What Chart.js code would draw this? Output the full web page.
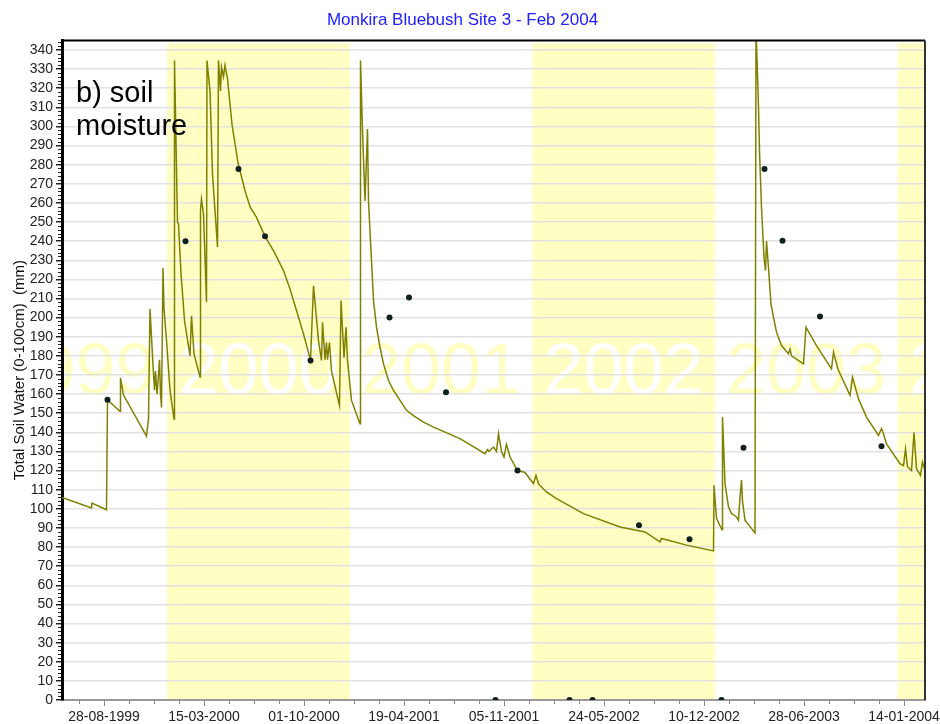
<!DOCTYPE html>
<html>
<head>
<meta charset="utf-8">
<script src="https://cdn.jsdelivr.net/npm/chart.js@4.4.1/dist/chart.umd.min.js"></script>
<style>
  html, body { margin: 0; padding: 0; background: #fff; }
</style>
</head>
<body>
<canvas id="chart" width="940" height="724"></canvas>
<script>
// modelled soil water
const lineDates = [
    '1999-06-05', '1999-08-03', '1999-08-04', '1999-09-02', '1999-09-04', '1999-09-29', '1999-09-30', '1999-10-06',
    '1999-11-21', '1999-11-25', '1999-11-28', '1999-12-03', '1999-12-07', '1999-12-09', '1999-12-12', '1999-12-15',
    '1999-12-17', '1999-12-19', '1999-12-21', '1999-12-24', '1999-12-26', '1999-12-31', '2000-01-07', '2000-01-15',
    '2000-01-16', '2000-01-19', '2000-01-22', '2000-01-24', '2000-01-29', '2000-02-05', '2000-02-16', '2000-02-19',
    '2000-02-24', '2000-03-07', '2000-03-08', '2000-03-10', '2000-03-14', '2000-03-20', '2000-03-21', '2000-03-27',
    '2000-04-01', '2000-04-11', '2000-04-13', '2000-04-17', '2000-04-19', '2000-04-23', '2000-04-26', '2000-05-01',
    '2000-05-10', '2000-05-22', '2000-06-05', '2000-06-15', '2000-06-28', '2000-07-15', '2000-08-01', '2000-08-21',
    '2000-09-03', '2000-09-16', '2000-09-30', '2000-10-14', '2000-10-20',
    '2000-10-30', '2000-11-05', '2000-11-07', '2000-11-12', '2000-11-15', '2000-11-17', '2000-11-21', '2000-11-25',
    '2000-12-11', '2000-12-14', '2000-12-20', '2000-12-24', '2000-12-27', '2001-01-04', '2001-01-21', '2001-01-22',
    '2001-01-26', '2001-01-31', '2001-02-05', '2001-02-07', '2001-02-11', '2001-02-17', '2001-02-23', '2001-03-02',
    '2001-03-09', '2001-03-19', '2001-03-29', '2001-04-11', '2001-04-24', '2001-05-08', '2001-05-28', '2001-06-17',
    '2001-08-09', '2001-09-28', '2001-10-03', '2001-10-06', '2001-10-15',
    '2001-10-21', '2001-10-25', '2001-10-31', '2001-11-05', '2001-11-10', '2001-11-17', '2001-12-02', '2001-12-17',
    '2002-01-03', '2002-01-08', '2002-01-13', '2002-01-29', '2002-02-18', '2002-04-13', '2002-06-25', '2002-08-14',
    '2002-09-13', '2002-09-16', '2002-11-05', '2002-12-29', '2002-12-30', '2003-01-04', '2003-01-15', '2003-01-16',
    '2003-01-21', '2003-01-28', '2003-02-03', '2003-02-12', '2003-02-17', '2003-02-20', '2003-02-23', '2003-02-25',
    '2003-03-02', '2003-03-22', '2003-03-24', '2003-03-29', '2003-03-31', '2003-04-04', '2003-04-09', '2003-04-12',
    '2003-04-14', '2003-04-18', '2003-04-23', '2003-04-28', '2003-05-04', '2003-05-14', '2003-05-28', '2003-05-31',
    '2003-06-03', '2003-06-27',
    '2003-07-02', '2003-07-23', '2003-08-22', '2003-08-26', '2003-09-04', '2003-09-28', '2003-10-03', '2003-10-15',
    '2003-10-31', '2003-11-24', '2003-11-30', '2003-12-03', '2003-12-10', '2004-01-06', '2004-01-13', '2004-01-17',
    '2004-01-21', '2004-01-29', '2004-02-03', '2004-02-08', '2004-02-16', '2004-02-20', '2004-02-25'
];
const lineValues = [
    106, 100.5, 103, 99.5, 157, 151, 168.5, 159.5,
    138, 147, 204.5, 180, 162, 172, 160, 170,
    178, 160, 153, 226, 205, 188, 162, 147,
    334.5, 292, 250, 249, 223, 198.5, 180, 201,
    181, 169, 256, 262, 254, 208, 334.5, 318.5,
    275, 237, 334.5, 318.5, 331, 326, 332, 325,
    301, 281, 266.4, 258, 252.4, 242.5, 235, 224.6,
    215, 203.7, 191.5, 177.6, 216.7,
    188, 177.6, 197.6, 178, 187, 178, 187, 172,
    154, 209, 179, 195, 177.6, 156.7, 144.5, 334.5,
    298, 261, 298.6, 261, 240, 209, 195, 184.5,
    175.8, 167.1, 161.9, 156.7, 151.5, 148.8, 145.3, 142.7,
    136.7, 128.8, 131, 130, 132.3,
    130, 139.3, 130, 127.1, 133.7, 127.1, 120, 119,
    113.2, 117.5, 113, 108.8, 105.3, 97.5, 90.5, 87.9,
    82.7, 84.5, 81, 78, 112.3, 95, 89, 148,
    113.2, 101, 97.5, 96, 94, 106, 115, 104,
    94, 87.4, 352, 310, 287, 257.6, 231.5, 224.6,
    240, 226, 207, 200.2, 192.4, 185.4, 181.1, 183.5,
    180, 175.8,
    195, 185.4, 173.2, 181.9, 173, 159.3, 168.8, 157.5,
    148, 138.4, 141.9, 140, 134, 123.6, 122.5, 131.4,
    122, 120, 140, 121, 117.5, 124.5, 120
];

// measured soil water (dots)
const obsDates = [
    '1999-09-04', '2000-02-07', '2000-05-23', '2000-07-15', '2000-10-14', '2001-03-21', '2001-04-29',
    '2001-07-12', '2001-10-19', '2001-12-02', '2002-03-16', '2002-05-01', '2002-08-02', '2002-11-11',
    '2003-01-14', '2003-02-27', '2003-04-10', '2003-05-16', '2003-07-30', '2003-11-30'
];
const obsValues = [
    157, 240, 277.7, 242.5, 177.6, 200, 210.5,
    161, 0, 120, 0, 0, 91.4, 84.1,
    0, 132, 277.7, 240.2, 200.6, 132.7
];

const tickDates = ['1999-08-28', '2000-03-15', '2000-10-01', '2001-04-19', '2001-11-05',
                   '2002-05-24', '2002-12-10', '2003-06-28', '2004-01-14'];
const yearLabels = ['1999', '2000', '2001', '2002', '2003', '2004'];
const shadedYears = ['2000', '2002', '2004'];

const DAY = 864e5;
const FONT = "Arial, 'Liberation Sans', sans-serif";
const BAND = '#ffffc4';

function toDay(s) {
    const p = s.split('-').map(Number);
    return Date.UTC(p[0], p[1] - 1, p[2]) / DAY;
}

function fmtDay(v) {
    const d = new Date(v * DAY);
    const pad = n => String(n).padStart(2, '0');
    return pad(d.getUTCDate()) + '-' + pad(d.getUTCMonth() + 1) + '-' + d.getUTCFullYear();
}

const backdrop = {
    id: 'backdrop',
    beforeDraw(chart) {
        const { ctx, chartArea: a, scales: { x, y } } = chart;
        ctx.save();
        ctx.beginPath();
        ctx.rect(a.left, a.top, a.width, a.height);
        ctx.clip();
        shadedYears.forEach(yr => {
            const x0 = x.getPixelForValue(toDay(yr + '-01-01'));
            const x1 = x.getPixelForValue(toDay((+yr + 1) + '-01-01'));
            ctx.fillStyle = BAND;
            ctx.fillRect(x0, a.top + 3, x1 - x0, a.bottom - a.top - 3);
        });
        ctx.font = '72px ' + FONT;
        ctx.textAlign = 'center';
        ctx.textBaseline = 'alphabetic';
        yearLabels.forEach(yr => {
            ctx.fillStyle = shadedYears.includes(yr) ? '#ffffff' : BAND;
            ctx.fillText(yr, x.getPixelForValue(toDay(yr + '-07-02')), y.getPixelForValue(160));
        });
        ctx.restore();
    },
    afterDraw(chart) {
        const { ctx, chartArea: a, scales: { x, y } } = chart;
        ctx.save();
        // minor ticks on the y axis
        ctx.strokeStyle = '#222';
        ctx.lineWidth = 1;
        for (let v = 2; v <= 344; v += 2) {
            if (v % 10 == 0) continue;
            const py = Math.round(y.getPixelForValue(v)) + 0.5;
            ctx.beginPath();
            ctx.moveTo(a.left - 4, py);
            ctx.lineTo(a.left - 1, py);
            ctx.stroke();
        }
        // minor ticks on the x axis, every 50 days
        ctx.strokeStyle = '#888';
        const start = toDay(tickDates[0]);
        for (let k = -1; k < 34; k++) {
            if (k % 4 == 0) continue;
            const v = start + k * 50;
            if (v < x.min || v > x.max) continue;
            const px = Math.round(x.getPixelForValue(v)) + 0.5;
            ctx.beginPath();
            ctx.moveTo(px, a.bottom);
            ctx.lineTo(px, a.bottom + 4);
            ctx.stroke();
        }
        // frame top and right
        ctx.strokeStyle = '#000';
        ctx.lineWidth = 2;
        ctx.beginPath();
        ctx.moveTo(a.left - 1, a.top);
        ctx.lineTo(a.right, a.top);
        ctx.stroke();
        ctx.strokeStyle = '#333';
        ctx.beginPath();
        ctx.moveTo(a.right, a.top);
        ctx.lineTo(a.right, a.bottom);
        ctx.stroke();
        // panel label
        ctx.fillStyle = '#000';
        ctx.font = '29px ' + FONT;
        ctx.textAlign = 'left';
        ctx.fillText('b) soil', a.left + 14, a.top + 62);
        ctx.fillText('moisture', a.left + 14, a.top + 95);
        ctx.restore();
    }
};

const config = {
    type: 'scatter',
    data: {
        datasets: [
            {
                label: 'Measured',
                data: obsDates.map((d, i) => ({ x: toDay(d), y: obsValues[i] })),
                showLine: false,
                pointRadius: 3,
                pointBackgroundColor: '#102020',
                pointBorderColor: '#102020',
                pointBorderWidth: 0,
                clip: 0,
            },
            {
                label: 'Total Soil Water',
                data: lineDates.map((d, i) => ({ x: toDay(d), y: lineValues[i] })),
                showLine: true,
                pointRadius: 0,
                borderColor: '#808000',
                borderWidth: 1.5,
                tension: 0,
            },
        ]
    },
    options: {
        responsive: false,
        animation: false,
        layout: { padding: { left: 0, right: 15, top: 0, bottom: 0 } },
        plugins: {
            legend: { display: false },
            tooltip: { enabled: false },
            title: {
                display: true,
                text: 'Monkira Bluebush Site 3 - Feb 2004',
                color: '#2020ff',
                font: { family: FONT, size: 17, weight: 'normal' },
                padding: { top: 10, bottom: 10 },
            },
        },
        scales: {
            x: {
                type: 'linear',
                min: toDay('1999-06-05'),
                max: toDay('2004-02-25'),
                afterBuildTicks: scale => {
                    scale.ticks = tickDates.map(d => ({ value: toDay(d) }));
                },
                afterFit: scale => {
                    scale.height = 24;
                    scale.paddingLeft = 0;
                    scale.paddingRight = 0;
                },
                ticks: {
                    callback: v => fmtDay(v),
                    color: '#222',
                    font: { family: FONT, size: 14 },
                    maxRotation: 0,
                    autoSkip: false,
                    padding: 3,
                },
                grid: { drawOnChartArea: false, tickLength: 6, color: '#888', lineWidth: 1 },
                border: { color: '#999', width: 2 },
            },
            y: {
                min: 0,
                max: 345,
                afterFit: scale => {
                    scale.width = 62;
                    scale.paddingTop = 0;
                    scale.paddingBottom = 0;
                },
                ticks: {
                    stepSize: 10,
                    includeBounds: false,
                    autoSkip: false,
                    color: '#222',
                    font: { family: FONT, size: 14 },
                    padding: 3,
                },
                grid: { color: '#e2e2e2', lineWidth: 1.5, tickLength: 6, tickColor: '#222' },
                border: { color: '#000', width: 3 },
                title: {
                    display: true,
                    text: 'Total Soil Water (0-100cm)  (mm)',
                    color: '#111',
                    font: { family: FONT, size: 15 },
                    padding: { top: 11, bottom: 0 },
                },
            },
        },
    },
    plugins: [backdrop],
};

new Chart(document.getElementById('chart'), config);
</script>
</body>
</html>
